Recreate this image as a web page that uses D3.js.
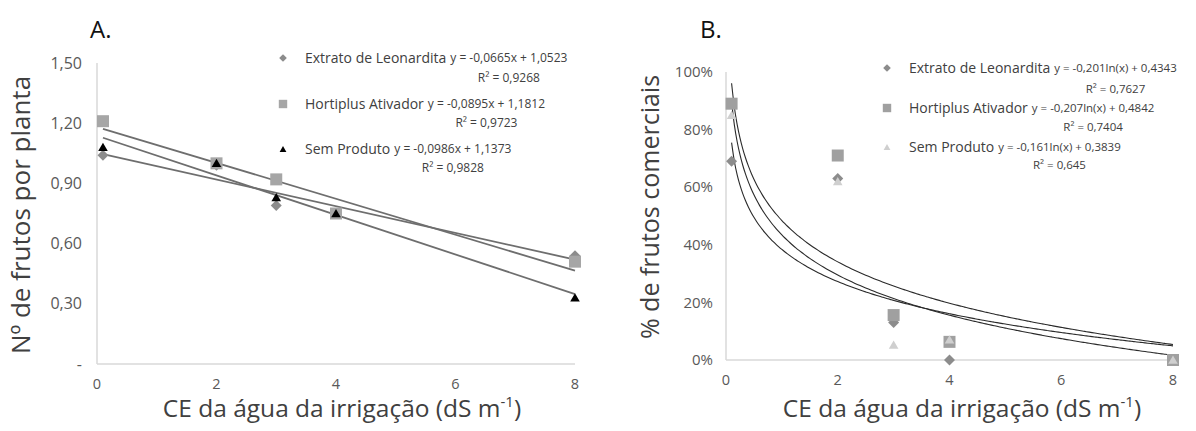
<!DOCTYPE html>
<html lang="pt">
<head>
<meta charset="UTF-8">
<title>Frutos por planta e frutos comerciais</title>
<script src="https://d3js.org/d3.v7.min.js"></script>
<style>
    body { margin: 0; background: #fff; }
    svg { display: block; font-family: "Open Sans", "Noto Sans", sans-serif; }
    .tick text { fill: #595959; }
</style>
</head>
<body>
<svg width="1196" height="431"></svg>
<script>
    // dados
    const ceValues = [0.1, 2, 3, 4, 8];
    const xTicks = [0, 2, 4, 6, 8];
    const seriesNames = ["Extrato de Leonardita", "Hortiplus Ativador", "Sem Produto"];

    // A. Nº de frutos por planta
    const frutosLeonardita = [1.04, 0.99, 0.79, 0.75, 0.54];
    const frutosHortiplus = [1.21, 1.00, 0.92, 0.75, 0.51];
    const frutosSemProduto = [1.08, 1.00, 0.83, 0.75, 0.33];
    const yTicksA = [0, 0.3, 0.6, 0.9, 1.2, 1.5];
    const slopeA = [-0.0665, -0.0895, -0.0986];
    const interceptA = [1.0523, 1.1812, 1.1373];
    const equationsA = ["y = -0,0665x + 1,0523", "y = -0,0895x + 1,1812", "y = -0,0986x + 1,1373"];
    const r2A = ["R² = 0,9268", "R² = 0,9723", "R² = 0,9828"];

    // B. % de frutos comerciais
    const comerciaisLeonardita = [0.69, 0.63, 0.13, 0.00, 0.00];
    const comerciaisHortiplus = [0.89, 0.71, 0.156, 0.063, 0.00];
    const comerciaisSemProduto = [0.85, 0.62, 0.052, 0.07, 0.00];
    const yTicksB = [0, 0.2, 0.4, 0.6, 0.8, 1.0];
    const coefLnB = [-0.201, -0.207, -0.161];
    const interceptB = [0.4343, 0.4842, 0.3839];
    const equationsB = ["y = -0,201ln(x) + 0,4343", "y = -0,207ln(x) + 0,4842", "y = -0,161ln(x) + 0,3839"];
    const r2B = ["R² = 0,7627", "R² = 0,7404", "R² = 0,645"];

    const svg = d3.select("svg");
    svg.append("rect").attr("width", 1196).attr("height", 431).attr("fill", "#fff");

    const markerA = [
        { type: "diamond", fill: "#8c8c8c" },
        { type: "square", fill: "#a6a6a6" },
        { type: "triangle", fill: "#000" }
    ];
    const markerB = [
        { type: "diamond", fill: "#8c8c8c" },
        { type: "square", fill: "#a0a0a0" },
        { type: "triangle", fill: "#cfcfcf" }
    ];

    function drawMarker(g, m, x, y, scale) {
        if (m.type === "square") {
            g.append("path").attr("d", d3.symbol(d3.symbolSquare, 144 * scale * scale)())
                .attr("transform", `translate(${x},${y})`).attr("fill", m.fill);
        } else if (m.type === "diamond") {
            g.append("path").attr("d", d3.symbol(d3.symbolSquare, 60 * scale * scale)())
                .attr("transform", `translate(${x},${y}) rotate(45)`).attr("fill", m.fill);
        } else {
            g.append("path").attr("d", d3.symbol(d3.symbolTriangle, 40 * scale * scale)())
                .attr("transform", `translate(${x},${y + 1})`).attr("fill", m.fill);
        }
    }

    function drawAxes(g, x, y, yTicks, yFmt, labelRight, ySize) {
        g.append("line").attr("x1", x(0)).attr("x2", x(0)).attr("y1", y.range()[1]).attr("y2", y(0))
            .attr("stroke", "#d9d9d9").attr("stroke-width", 1.5);
        g.append("line").attr("x1", x(0)).attr("x2", x(8)).attr("y1", y(0)).attr("y2", y(0))
            .attr("stroke", "#d9d9d9").attr("stroke-width", 1.5);

        g.append("g").attr("class", "tick").selectAll("text").data(yTicks).join("text")
            .attr("x", labelRight).attr("y", d => y(d)).attr("dy", "0.35em")
            .attr("text-anchor", "end").attr("font-size", ySize)
            .text(yFmt);

        g.append("g").attr("class", "tick").selectAll("text").data(xTicks).join("text")
            .attr("x", d => x(d)).attr("y", y(0) + 25)
            .attr("text-anchor", "middle").attr("font-size", 14.5)
            .text(d => d);
    }

    function xTitle(g, cx, yPos) {
        const t = g.append("text").attr("x", cx).attr("y", yPos).attr("text-anchor", "middle")
            .attr("font-size", 24.5).attr("fill", "#404040");
        t.append("tspan").text("CE da água da irrigação (dS m");
        t.append("tspan").attr("font-size", 15).attr("dy", -10).text("-1");
        t.append("tspan").attr("dy", 10).text(")");
    }

    function legend(g, markers, eqs, r2s, lx, rows, nameSize, eqSize) {
        seriesNames.forEach((name, i) => {
            const r = rows[i];
            drawMarker(g, markers[i], lx, r.y, 0.7);
            const t = g.append("text").attr("x", lx + 22).attr("y", r.y).attr("dy", "0.35em")
                .attr("font-size", nameSize).attr("fill", "#404040").text(name);
            const nameEnd = lx + 22 + t.node().getComputedTextLength() + 4;
            const eq = g.append("text").attr("x", nameEnd).attr("y", r.y).attr("dy", "0.35em")
                .attr("font-size", eqSize).attr("fill", "#404040").text(eqs[i]);
            const eqMid = nameEnd + eq.node().getComputedTextLength() / 2;
            g.append("text").attr("x", eqMid).attr("y", r.r2y).attr("dy", "0.35em")
                .attr("text-anchor", "middle").attr("font-size", eqSize).attr("fill", "#404040")
                .text(r2s[i]);
        });
    }

    // ---------- painel A ----------
    const gA = svg.append("g");
    const xA = d3.scaleLinear().domain([0, 8]).range([97, 575]);
    const yA = d3.scaleLinear().domain([0, 1.5]).range([364, 63]);

    drawAxes(gA, xA, yA, yTicksA, d => d === 0 ? "-" : d3.format(".2f")(d).replace(".", ","), 82, 16);

    const frutos = [frutosLeonardita, frutosHortiplus, frutosSemProduto];
    slopeA.forEach((b, i) => {
        const x0 = d3.min(ceValues), x1 = d3.max(ceValues);
        gA.append("line")
            .attr("x1", xA(x0)).attr("y1", yA(b * x0 + interceptA[i]))
            .attr("x2", xA(x1)).attr("y2", yA(b * x1 + interceptA[i]))
            .attr("stroke", "#6e6e6e").attr("stroke-width", 1.8);
    });
    frutos.forEach((vals, i) => {
        vals.forEach((v, j) => drawMarker(gA, markerA[i], xA(ceValues[j]), yA(v), 1));
    });

    gA.append("text").attr("x", 90).attr("y", 38).attr("font-size", 24).attr("fill", "#111").text("A.");
    gA.append("text").attr("transform", "translate(30,215) rotate(-90)").attr("text-anchor", "middle")
        .attr("font-size", 26).attr("fill", "#404040").text("Nº de frutos por planta");
    xTitle(gA, 342, 417);

    legend(gA, markerA, equationsA, r2A, 283,
        [{ y: 58, r2y: 78 }, { y: 104, r2y: 123 }, { y: 149, r2y: 168 }], 14, 12);

    // ---------- painel B ----------
    const gB = svg.append("g");
    const xB = d3.scaleLinear().domain([0, 8]).range([726, 1173]);
    const yB = d3.scaleLinear().domain([0, 1]).range([360, 72]);

    drawAxes(gB, xB, yB, yTicksB, d3.format(".0%"), 713, 15);

    const lnLine = d3.line().x(d => xB(d[0])).y(d => yB(d[1])).curve(d3.curveMonotoneX);
    coefLnB.forEach((c, i) => {
        const pts = d3.range(0.1, 8.0001, 0.05).map(x => [x, c * Math.log(x) + interceptB[i]]);
        gB.append("path").attr("d", lnLine(pts)).attr("fill", "none")
            .attr("stroke", "#2a2a2a").attr("stroke-width", 1.1);
    });

    const comerciais = [comerciaisLeonardita, comerciaisHortiplus, comerciaisSemProduto];
    comerciais.forEach((vals, i) => {
        vals.forEach((v, j) => drawMarker(gB, markerB[i], xB(ceValues[j]), yB(v), 1));
    });

    gB.append("text").attr("x", 700).attr("y", 38).attr("font-size", 24).attr("fill", "#111").text("B.");
    gB.append("text").attr("transform", "translate(659,207) rotate(-90)").attr("text-anchor", "middle")
        .attr("font-size", 25).attr("fill", "#404040").text("% de frutos comerciais");
    xTitle(gB, 962, 417);

    legend(gB, markerB, equationsB, r2B, 887,
        [{ y: 68, r2y: 89 }, { y: 108, r2y: 127 }, { y: 147, r2y: 165 }], 14, 11.5);
</script>
</body>
</html>
